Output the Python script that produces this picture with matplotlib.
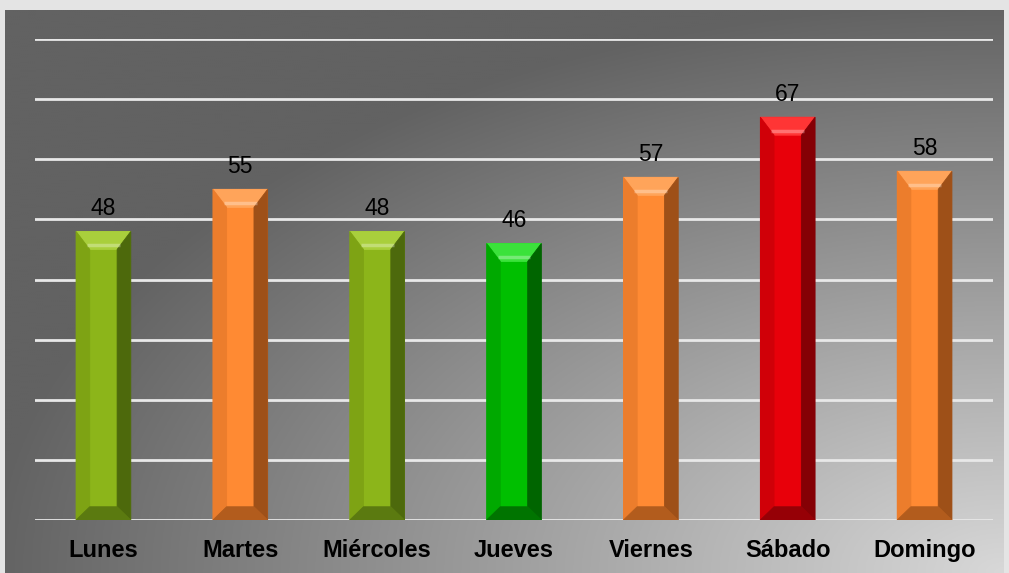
import numpy as np
import matplotlib.pyplot as plt
from matplotlib.patches import Polygon

plt.rcParams['font.family'] = ['Liberation Sans', 'DejaVu Sans']

# data
days = ['Lunes', 'Martes', 'Miércoles', 'Jueves', 'Viernes', 'Sábado', 'Domingo']
values = [48, 55, 48, 46, 57, 67, 58]
kinds = ['olive', 'orange', 'olive', 'green', 'orange', 'red', 'orange']

# face colours: front, top, left, right, bottom
palette = {
    'olive': ['#8cb51a', '#a9cf3c', '#7ea314', '#4d690c', '#5b7a10'],
    'orange': ['#ff8a33', '#ffa45a', '#ec7d2c', '#9e5018', '#b25c1d'],
    'red': ['#e8000a', '#ff3535', '#d00008', '#850005', '#960006'],
    'green': ['#00bf00', '#3be23b', '#00a900', '#006500', '#007400'],
}

fig = plt.figure(figsize=(10.09, 5.73), dpi=100)
fig.patch.set_facecolor('#e4e4e4')

# background gradient (light at bottom right)
bg = fig.add_axes([5 / 1009, 0, 1 - 10 / 1009, 1 - 10 / 573])
ny, nx = 300, 500
xx, yy = np.meshgrid(np.linspace(0, 1, nx), np.linspace(0, 1, ny))
d = np.sqrt((1 - xx) ** 2 + yy ** 2)
shade = np.clip(216 - 116 * d, 98, 216) / 255.0
bg.imshow(np.dstack([shade, shade, shade]), aspect='auto', origin='lower',
          extent=[0, 1, 0, 1])
bg.set_axis_off()

ax = fig.add_axes([35 / 1009, 53 / 573, 958 / 1009, 481 / 573])
ax.patch.set_alpha(0)
ax.set_xlim(-0.5, len(days) - 0.5)
ax.set_ylim(0, 80)
for v in range(0, 81, 10):
    ax.axhline(v, color='#e8e8e8', lw=2, zorder=1)

w = 0.2
dx = 0.1
dyt = 3.0
dyb = 2.2
for i, (val, k) in enumerate(zip(values, kinds)):
    front, top, left, right, bottom = palette[k]
    l, r = i - w, i + w
    # solid backing so no gridline shows through the face seams
    ax.add_patch(Polygon([(l, 0), (r, 0), (r, val), (l, val)], closed=True,
                         facecolor=front, edgecolor='none', zorder=2))
    faces = [
        ([(l + dx, dyb), (r - dx, dyb), (r - dx, val - dyt), (l + dx, val - dyt)], front),
        ([(l, val), (r, val), (r - dx, val - dyt), (l + dx, val - dyt)], top),
        ([(l, val), (l + dx, val - dyt), (l + dx, dyb), (l, 0)], left),
        ([(r, val), (r, 0), (r - dx, dyb), (r - dx, val - dyt)], right),
        ([(l, 0), (r, 0), (r - dx, dyb), (l + dx, dyb)], bottom),
    ]
    for pts, c in faces:
        ax.add_patch(Polygon(pts, closed=True, facecolor=c, edgecolor=c, lw=0.6, zorder=3))
    # highlight line on top bevel
    ax.plot([l + dx * 0.8, r - dx * 0.8], [val - dyt * 0.75, val - dyt * 0.75],
            color='white', alpha=0.3, lw=2.5, zorder=4, solid_capstyle='butt')
    ax.annotate(str(val), (i, val), xytext=(0, 8), textcoords='offset points',
                ha='center', va='bottom', fontsize=16.5, color='black')

ax.set_xticks(range(len(days)))
ax.set_xticklabels(days, fontsize=17, fontweight='bold')
ax.tick_params(axis='x', length=0, pad=14)
ax.set_yticks([])
for s in ax.spines.values():
    s.set_visible(False)

fig.savefig('out.png', dpi=100)
